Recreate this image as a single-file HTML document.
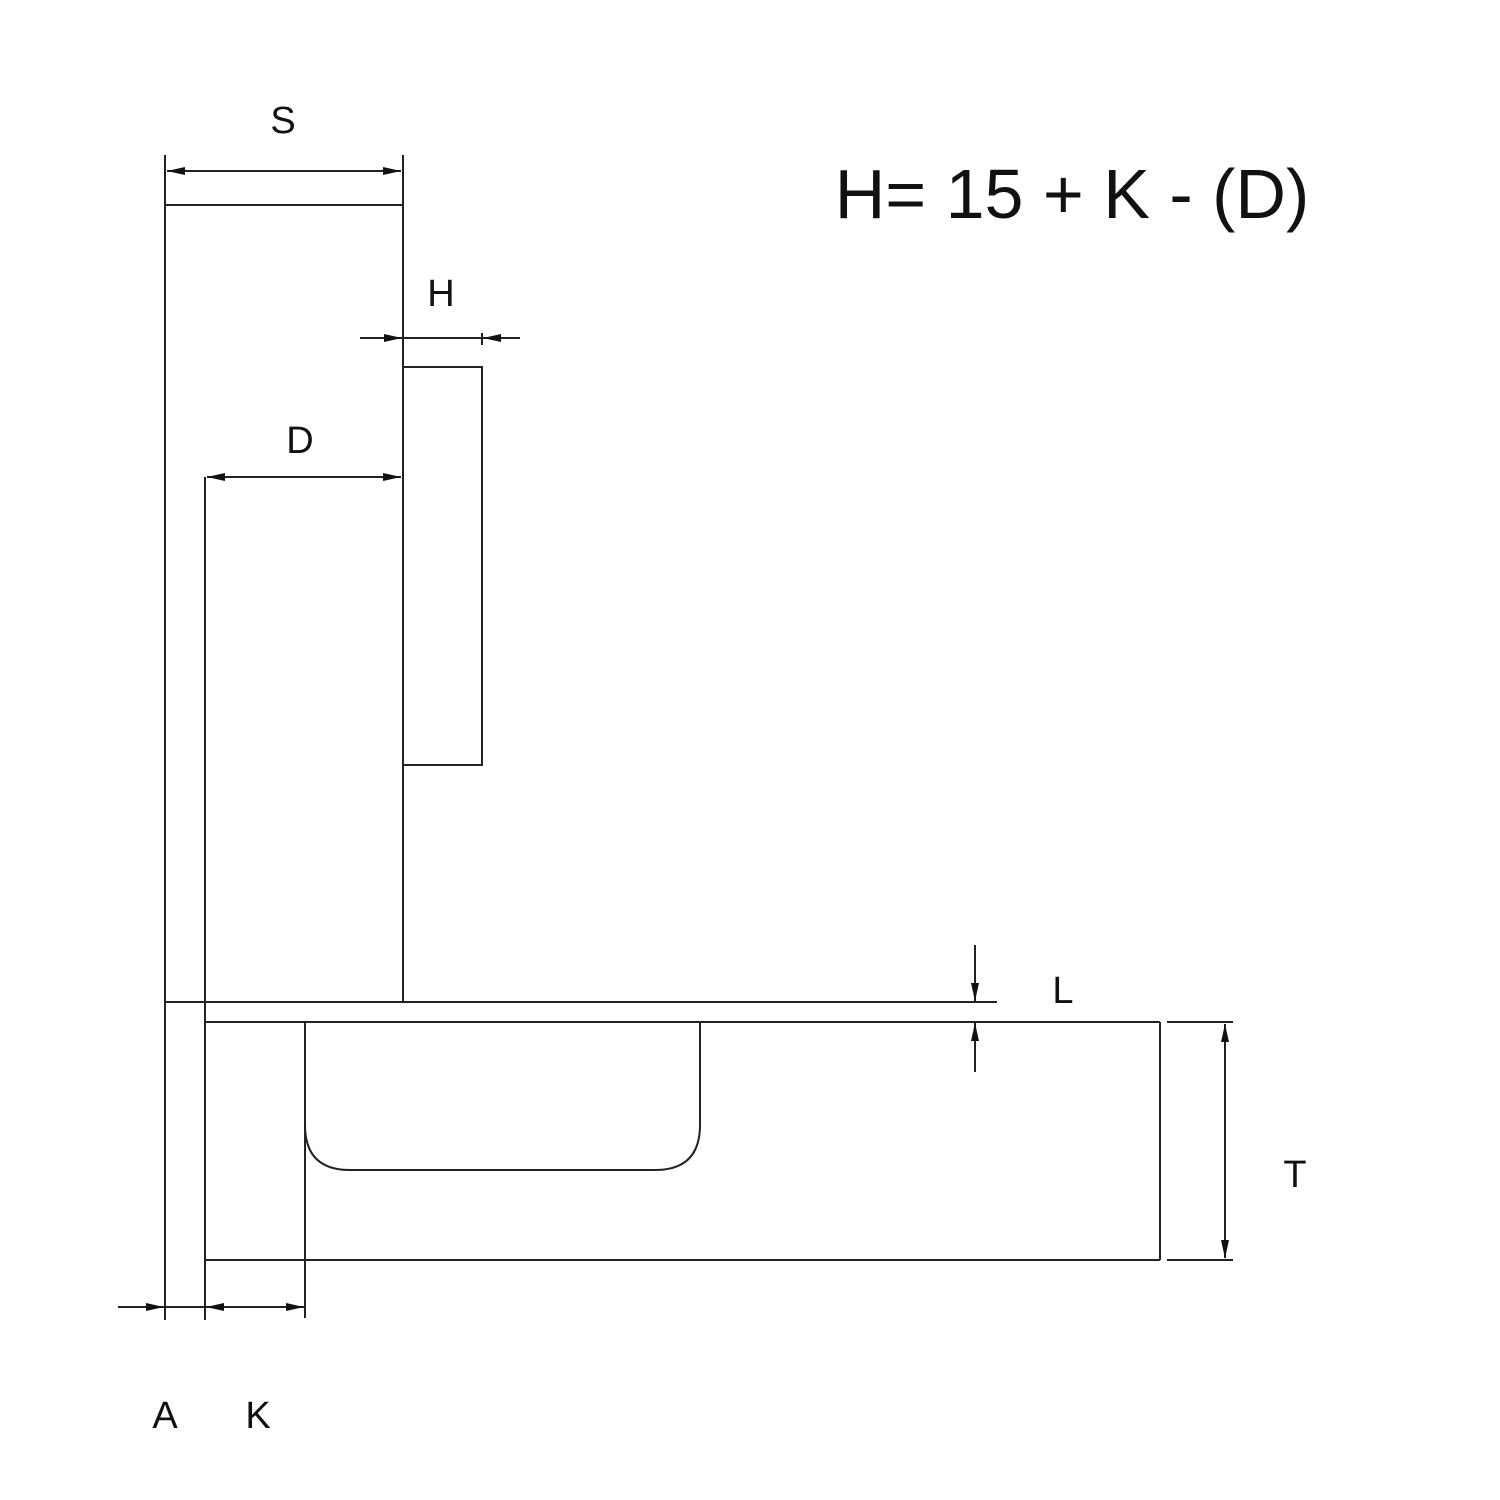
<!DOCTYPE html>
<html><head><style>html,body{margin:0;padding:0;background:#fff}svg{display:block}</style></head>
<body>
<svg width="1500" height="1500" viewBox="0 0 1500 1500" xmlns="http://www.w3.org/2000/svg">
<defs>
<marker id="a" viewBox="0 0 18 10" refX="18" refY="5" markerWidth="18" markerHeight="10" markerUnits="userSpaceOnUse" orient="auto-start-reverse"><path d="M0,1 L18,5 L0,9 z" fill="#111"/></marker>
</defs>
<g stroke="#222" stroke-width="2" fill="none">
<line x1="165" y1="155" x2="165" y2="1320"/>
<line x1="403" y1="155" x2="403" y2="1002"/>
<line x1="165" y1="205" x2="403" y2="205"/>
<line x1="167" y1="171" x2="401" y2="171" marker-start="url(#a)" marker-end="url(#a)"/>
<line x1="360" y1="338" x2="402" y2="338" marker-end="url(#a)"/>
<line x1="520" y1="338" x2="483" y2="338" marker-end="url(#a)"/>
<line x1="403" y1="338" x2="482" y2="338"/>
<line x1="482" y1="333" x2="482" y2="345"/>
<rect x="403" y="367" width="79" height="398"/>
<line x1="205" y1="477" x2="205" y2="1320"/>
<line x1="207" y1="477" x2="401" y2="477" marker-start="url(#a)" marker-end="url(#a)"/>
<line x1="165" y1="1002" x2="997" y2="1002"/>
<line x1="205" y1="1022" x2="1160" y2="1022"/>
<line x1="205" y1="1260" x2="1160" y2="1260"/>
<line x1="1160" y1="1022" x2="1160" y2="1260"/>
<line x1="1167" y1="1022" x2="1233" y2="1022"/>
<line x1="1167" y1="1260" x2="1233" y2="1260"/>
<line x1="1225" y1="1024" x2="1225" y2="1258" marker-start="url(#a)" marker-end="url(#a)"/>
<line x1="975" y1="945" x2="975" y2="1001" marker-end="url(#a)"/>
<line x1="975" y1="1072" x2="975" y2="1023" marker-end="url(#a)"/>
<path d="M305,1318 L305,1022 L700,1022 L700,1125 Q700,1170 655,1170 L350,1170 Q305,1170 305,1125"/>
<line x1="118" y1="1307" x2="164" y2="1307" marker-end="url(#a)"/>
<line x1="165" y1="1307" x2="205" y2="1307"/>
<line x1="206" y1="1307" x2="304" y2="1307" marker-start="url(#a)" marker-end="url(#a)"/>
</g>
<g font-family="Liberation Sans, sans-serif" fill="#111" text-anchor="middle" font-size="38">
<text x="283" y="133">S</text>
<text x="441" y="306">H</text>
<text x="300" y="453">D</text>
<text x="1063" y="1003">L</text>
<text x="1295" y="1187">T</text>
<text x="165" y="1428">A</text>
<text x="258" y="1428">K</text>
<text x="1072" y="218" font-size="70">H= 15 + K - (D)</text>
</g>
</svg>
</body></html>
